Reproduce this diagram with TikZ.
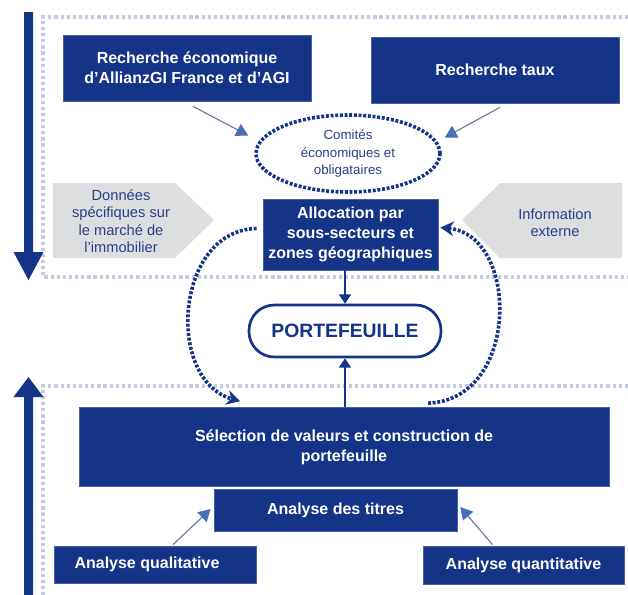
\documentclass[tikz,border=0pt]{standalone}
\usepackage{fontspec}
\setmainfont{Liberation Sans}
\usetikzlibrary{arrows.meta,shapes.geometric}
\definecolor{navy}{RGB}{20,52,135}
\definecolor{boxedge}{RGB}{70,95,165}
\definecolor{greyfill}{RGB}{221,222,224}
\definecolor{greyblue}{RGB}{42,62,140}
\definecolor{framecol}{RGB}{196,203,222}
\definecolor{thinline}{RGB}{110,108,160}
\definecolor{thinhead}{RGB}{72,112,185}
\begin{document}
\begin{tikzpicture}[x=0.75pt,y=-0.75pt,
  bluebox/.style={fill=navy,draw=boxedge,line width=0.5pt,text=white,inner sep=0pt,
    font=\fontsize{12}{15}\selectfont\bfseries,align=center},
  greytext/.style={text=greyblue,font=\fontsize{11}{13}\selectfont,align=center},
  thinarrow/.style={thinline,line width=0.8pt,-{Triangle[length=9pt,width=10pt,color=thinhead]}},
  navarrow/.style={navy,line width=1.3pt,-{Triangle[length=7pt,width=9pt]}},
  dotarrow/.style={navy,line width=2.7pt,dash pattern=on 2.2pt off 1.3pt,-{Stealth[length=10pt,width=11pt]}},
  frame/.style={framecol,line width=2.7pt,dash pattern=on 2.4pt off 2.2pt}]
\useasboundingbox (0,0) rectangle (628,594);

% dotted frames and the two big arrows
\draw [frame] (628,17) -- (43,17) -- (43,277) -- (628,277);
\draw [frame] (628,386) -- (43,386) -- (43,596);
\fill [navy] (24,12) -- (33,12) -- (33,252) -- (43.5,252) -- (28.5,280) -- (13.5,252) -- (24,252) -- cycle;
\fill [navy] (24,596) -- (24,397) -- (13.5,397) -- (28.5,377) -- (43.5,397) -- (33,397) -- (33,596) -- cycle;

% grey inputs
\fill [greyfill] (53,183) -- (175,183) -- (214,220) -- (175,258) -- (53,258) -- cycle;
\fill [greyfill] (622,183) -- (500,183) -- (462,220) -- (500,258) -- (622,258) -- cycle;
\node [greytext] (donnees) at (121,221) {Données\\spécifiques sur\\le marché de\\l’immobilier};
\node [greytext] (info) at (555,223) {Information\\externe};

\node [bluebox,minimum width=186pt,minimum height=49.5pt] (rech1) at (187,68) {Recherche économique\\d’AllianzGI France et d’AGI};
\node [bluebox,minimum width=186pt,minimum height=49.5pt] (rech2) at (495,70) {Recherche taux};
\node [ellipse,draw=navy,line width=2.7pt,dash pattern=on 2.2pt off 1.3pt,inner sep=0pt,
  minimum width=138pt,minimum height=57.75pt,text=greyblue,align=center,
  font=\fontsize{10}{13}\selectfont] (comite) at (348,153.5) {Comités\\économiques et\\obligataires};
\node [bluebox,minimum width=131.25pt,minimum height=53.25pt] (alloc) at (350.5,234.5) {Allocation par\\sous-secteurs et\\zones géographiques};
\node [draw=navy,line width=2pt,fill=white,rounded corners=19pt,minimum width=144pt,minimum height=39pt,
  text=navy,font=\fontsize{14.5}{17}\selectfont\bfseries] (portf) at (345,331) {PORTEFEUILLE};
\node [bluebox,minimum width=397.5pt,minimum height=59.25pt] (sel) at (344,447) {Sélection de valeurs et construction de\\portefeuille};
\node [bluebox,minimum width=182.25pt,minimum height=31.5pt] (titres) at (335.5,510) {Analyse des titres};
\node [bluebox,minimum width=151.5pt,minimum height=27.75pt] (qual) at (155,564.5) {Analyse qualitative\hspace*{12pt}};
\node [bluebox,minimum width=150.75pt,minimum height=28.5pt] (quant) at (523.5,565) {Analyse quantitative};

% connectors
\draw [thinarrow] ([shift={(6,5)}]rech1.south) -- ([shift={(-6,-18)}]comite.west);
\draw [thinarrow] ([shift={(5,4)}]rech2.south) -- ([shift={(3,-16)}]comite.east);
\draw [navarrow] (portf.north |- alloc.south) -- (portf.north);
\draw [navarrow] (portf.south |- sel.north) -- (portf.south);
\draw [dotarrow] ([shift={(-6,-6)}]alloc.west) .. controls (175,230) and (165,380) .. ([shift={(-104,-6)}]sel.north);
\draw [dotarrow] ([shift={(84,-4)}]sel.north) .. controls (520,400) and (520,235) .. ([shift={(2,-7)}]alloc.east);
\draw [thinarrow] ([shift={(18,-1)}]qual.north) -- ([shift={(-3,-1)}]titres.west);
\draw [thinarrow] ([shift={(-31,-1)}]quant.north) -- ([shift={(3,-3)}]titres.east);
\end{tikzpicture}
\end{document}
